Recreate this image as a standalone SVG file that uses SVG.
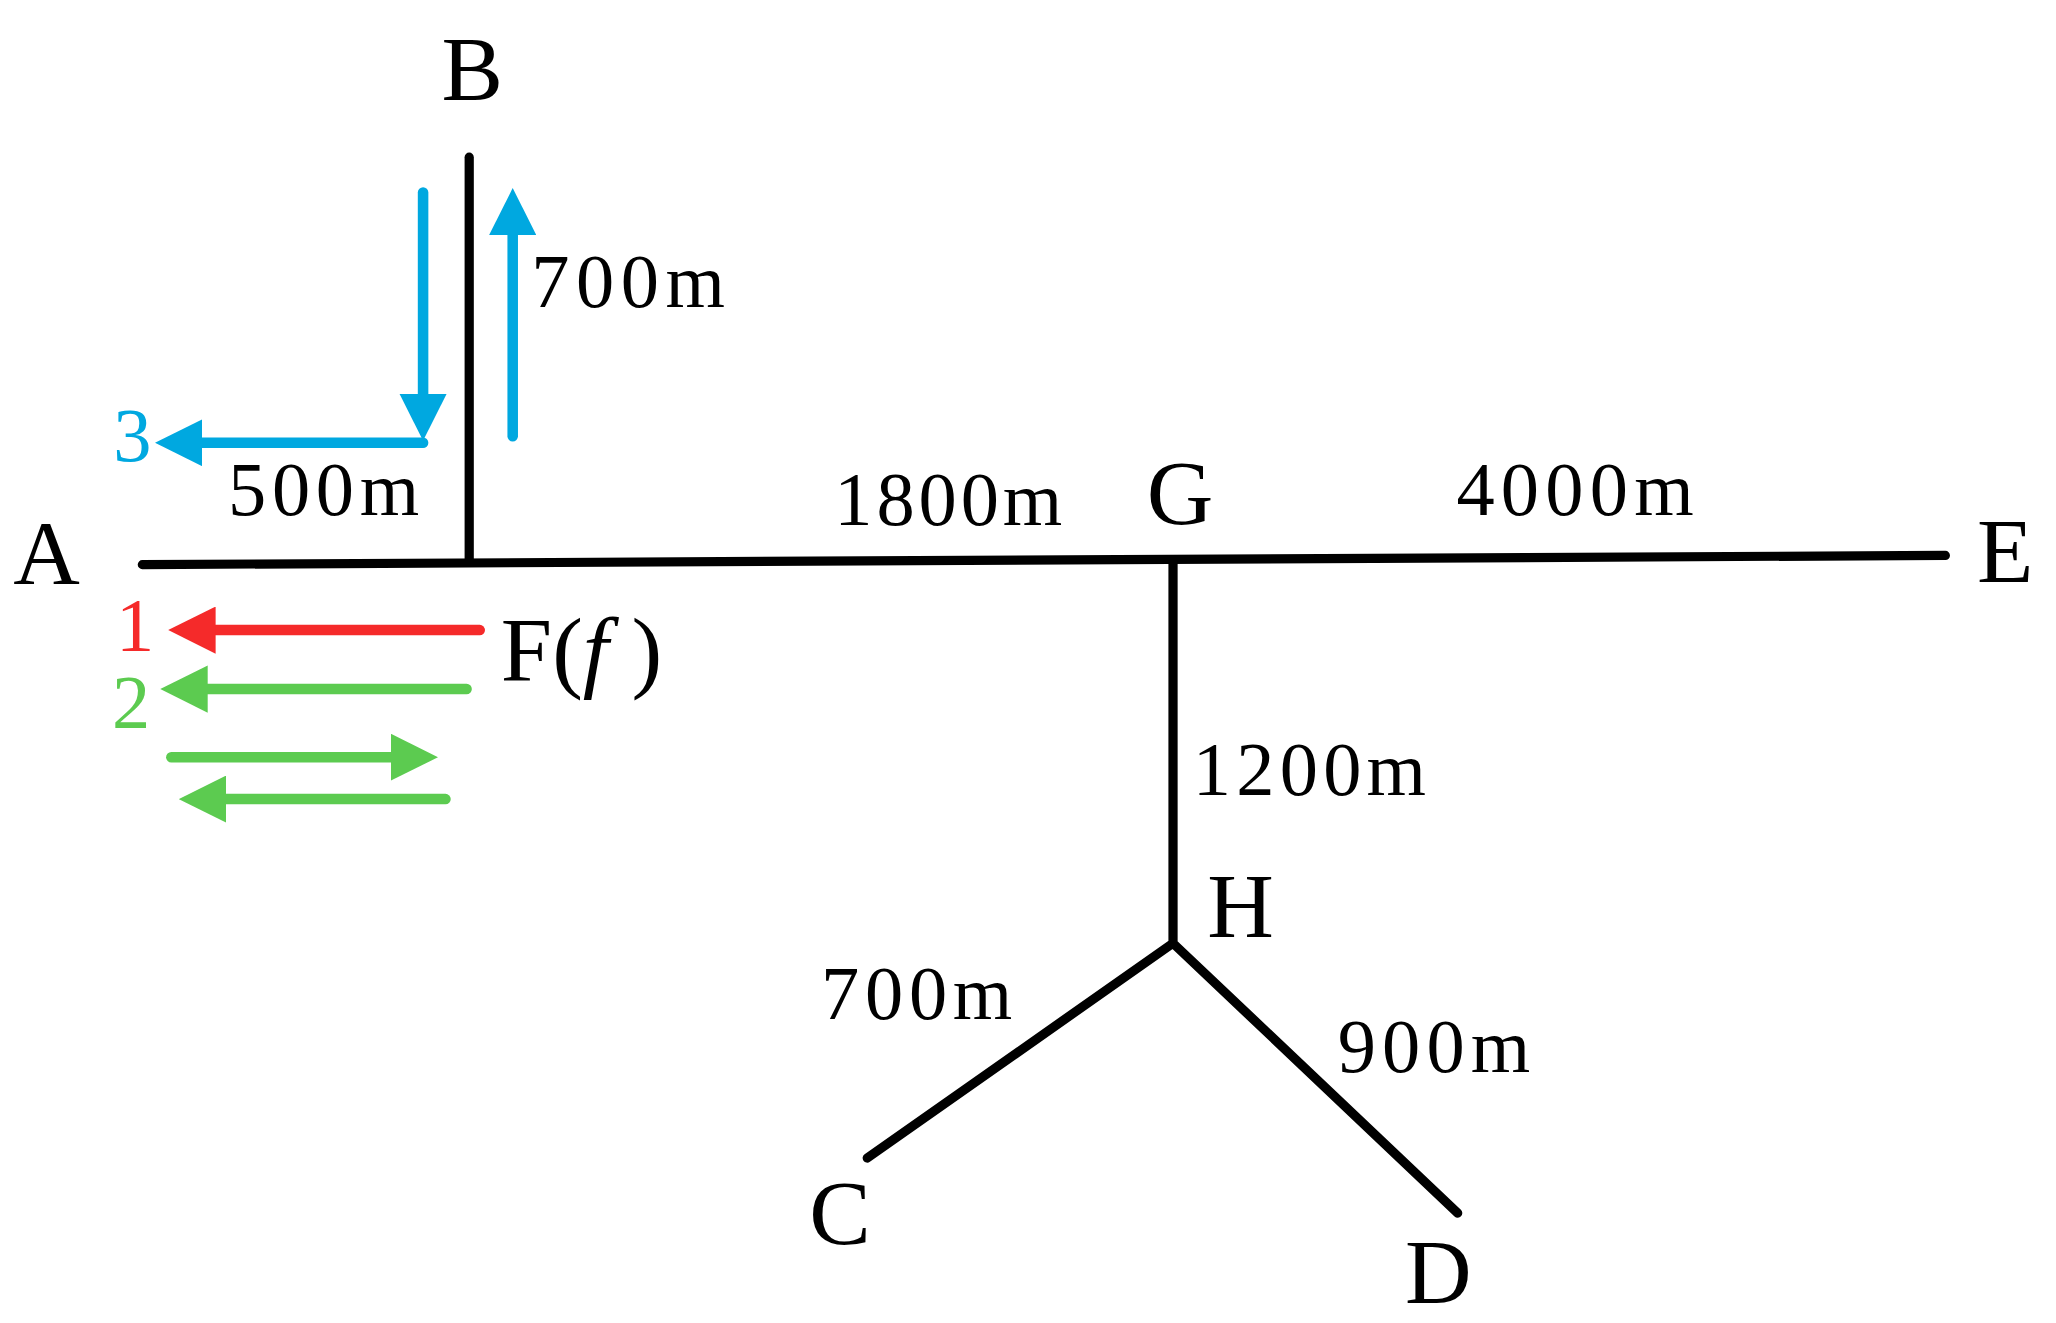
<svg xmlns="http://www.w3.org/2000/svg" width="2056" height="1323" viewBox="0 0 2056 1323">
<style>
text{font-family:"Liberation Serif",serif;font-size:58px}
.l{font-size:70px}
.k{stroke:#000;stroke-width:7;stroke-linecap:round;fill:none}
.b{stroke:#00a8e0;stroke-width:8;stroke-linecap:round;fill:none}
.r{stroke:#f52a2a;stroke-width:8;stroke-linecap:round;fill:none}
.g{stroke:#5ccb50;stroke-width:8;stroke-linecap:round;fill:none}
</style>
<defs>
<marker id="mb" viewBox="0 0 10 10" refX="6" refY="5" markerWidth="4.5" markerHeight="4.5" orient="auto" markerUnits="strokeWidth"><path d="M0,0L10,5L0,10z" fill="#00a8e0"/></marker>
<marker id="mr" viewBox="0 0 10 10" refX="6" refY="5" markerWidth="4.5" markerHeight="4.5" orient="auto" markerUnits="strokeWidth"><path d="M0,0L10,5L0,10z" fill="#f52a2a"/></marker>
<marker id="mg" viewBox="0 0 10 10" refX="6" refY="5" markerWidth="4.5" markerHeight="4.5" orient="auto" markerUnits="strokeWidth"><path d="M0,0L10,5L0,10z" fill="#5ccb50"/></marker>
</defs>
<rect width="2056" height="1323" fill="#fff"/>
<g transform="scale(1.318,1.31)">
<g id="connectors">
<path class="k" d="M108,431L1476,424"/>
<path class="k" d="M356,120L356,429"/>
<path class="k" d="M890,428L890,720L658,884M890,720L1106,926"/>
<path class="b" d="M321,147L321,322" marker-end="url(#mb)"/>
<path class="b" d="M321,338L132,338" marker-end="url(#mb)"/>
<path class="b" d="M389,333L389,158" marker-end="url(#mb)"/>
<path class="r" d="M364,481L142,481" marker-end="url(#mr)"/>
<path class="g" d="M354,526L136,526" marker-end="url(#mg)"/>
<path class="g" d="M130,578L318,578" marker-end="url(#mg)"/>
<path class="g" d="M338,610L150,610" marker-end="url(#mg)"/>
</g>
<g id="nodes">
<text class="l" x="335" y="76">B</text>
<text class="l" x="10" y="446">A</text>
<text class="l" x="1500" y="444">E</text>
<text class="l" x="870" y="400">G</text>
<text class="l" x="916" y="715">H</text>
<text class="l" x="614" y="950">C</text>
<text class="l" x="1066" y="995">D</text>
<text class="l" x="380" y="520">F(<tspan font-style="italic">f</tspan> )</text>
</g>
<g id="labels">
<text x="403" y="234" textLength="147">700m</text>
<text x="173" y="393" textLength="145">500m</text>
<text x="633" y="401" textLength="173">1800m</text>
<text x="1105" y="393" textLength="180">4000m</text>
<text x="905" y="607" textLength="177">1200m</text>
<text x="623" y="778" textLength="145">700m</text>
<text x="1015" y="818" textLength="146">900m</text>
<text x="86" y="352" fill="#00a8e0">3</text>
<text x="88" y="497" fill="#f52a2a">1</text>
<text x="85" y="556" fill="#5ccb50">2</text>
</g>
</g>
</svg>
